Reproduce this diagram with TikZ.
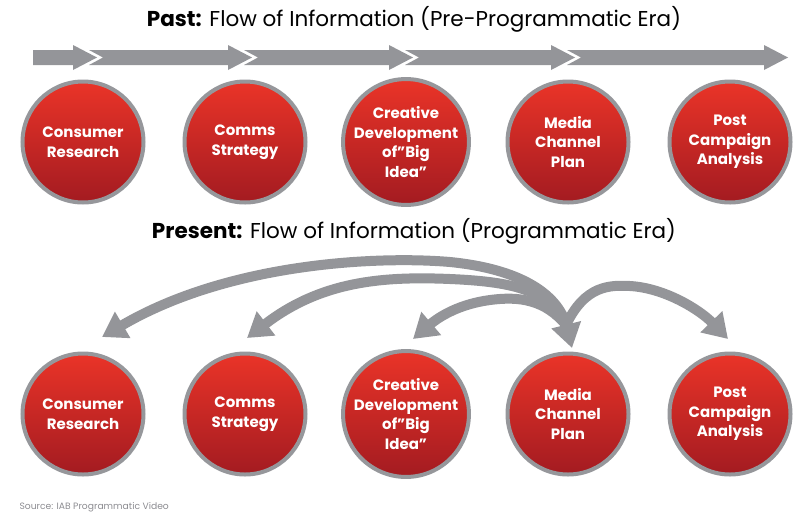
\documentclass[tikz,border=0pt]{standalone}
\usepackage{fontspec}
\setmainfont{Poppins}
\usetikzlibrary{arrows.meta, calc}

\definecolor{flowgray}{RGB}{148,149,153}
\definecolor{balltop}{RGB}{234,52,40}
\definecolor{ballbot}{RGB}{163,27,33}
\definecolor{ringgray}{RGB}{150,151,155}
\definecolor{srcgray}{RGB}{140,140,145}

\tikzset{
  ball/.style={circle, minimum size=121pt, inner sep=0pt, draw=ringgray, line width=4pt,
    top color=balltop, bottom color=ballbot, text=white, align=center,
    font=\fontsize{15}{19.5}\selectfont\bfseries},
  title/.style={anchor=base, font=\fontsize{21.5}{26}\selectfont},
  flow/.style={draw=flowgray, line width=10pt, -{Triangle[length=24pt,width=29pt]}},
  flowboth/.style={draw=flowgray, line width=10pt,
    {Triangle[length=24pt,width=29pt]}-{Triangle[length=24pt,width=29pt]}},
}

\begin{document}
\begin{tikzpicture}[x=1pt, y=-1pt]
    \useasboundingbox (0,0) rectangle (803,520);

    % Past
    \node[title] (pasttitle) at (414,26) {\textbf{Past:} Flow of Information (Pre-Programmatic Era)};

    % Flow bar
    \fill[flowgray] (33,50) -- (73,50) -- (73,45) -- (97,57.5) -- (73,70) -- (73,65) -- (33,65) -- cycle;
    \foreach \t/\p in {103/252, 258/413, 419/575, 581/788} {
        \fill[flowgray] (\t-14,50) -- (\p-24,50) -- (\p-24,45) -- (\p,57.5) -- (\p-24,70)
            -- (\p-24,65) -- (\t-14,65) -- (\t,57.5) -- cycle;
    }

    \node[ball] (a1) at (83,142) {Consumer\\Research};
    \node[ball] (a2) at (245,142) {Comms\\Strategy};
    \node[ball] (a3) at (406,142) {Creative\\Development\\of”Big\\Idea”};
    \node[ball] (a4) at (568,142) {Media\\Channel\\Plan};
    \node[ball] (a5) at (730,142) {Post\\Campaign\\Analysis};

    % Present
    \node[title] (nowtitle) at (414,238) {\textbf{Present:} Flow of Information (Programmatic Era)};

    \node[ball] (b1) at (83,414) {Consumer\\Research};
    \node[ball] (b2) at (245,414) {Comms\\Strategy};
    \node[ball] (b3) at (406,414) {Creative\\Development\\of”Big\\Idea”};
    \node[ball] (b4) at (568,414) {Media\\Channel\\Plan};
    \node[ball] (b5) at (730,414) {Post\\Campaign\\Analysis};

    \coordinate (hub) at ([shift={(-2,-89)}]b4.center);
    \coordinate (in1) at ([shift={(19,-77)}]b1.center);
    \coordinate (in2) at ([shift={(2,-76)}]b2.center);
    \coordinate (in3) at ([shift={(7,-75)}]b3.center);
    \coordinate (in4) at ([shift={(4,-66)}]b4.center);
    \coordinate (in5) at ([shift={(-2,-75)}]b5.center);

    % Curved flows
    \draw[flow] (hub) .. controls (548,292) and (520,282) .. (450,279)
        .. controls (380,276) and (320,282) .. (in2);
    \draw[flow] (hub) .. controls (545,300) and (520,296) .. (490,300)
        .. controls (460,304) and (440,316) .. (in3);
    \draw[flow] (hub) .. controls (585,285) and (610,285) .. (630,286)
        .. controls (665,288) and (700,310) .. (in5);
    \draw[flowboth] (in4) .. controls (560,300) and (530,270) .. (450,262)
        .. controls (380,256) and (230,262) .. (in1);

    \node[anchor=base west, text=srcgray, font=\fontsize{9.2}{11}\selectfont] (source) at (16,509) {Source: IAB Programmatic Video};
\end{tikzpicture}
\end{document}
